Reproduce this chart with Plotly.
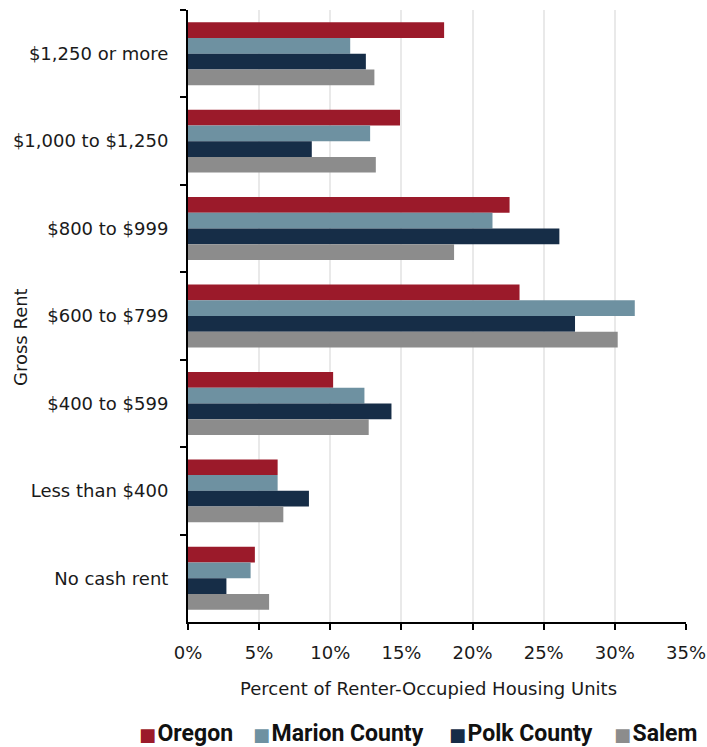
import plotly.graph_objects as go

# Gross rent brackets, listed top to bottom
categories = [
    "$1,250 or more",
    "$1,000 to $1,250",
    "$800 to $999",
    "$600 to $799",
    "$400 to $599",
    "Less than $400",
    "No cash rent",
]

# Percent of renter-occupied housing units in each bracket
oregon = [18.0, 14.9, 22.6, 23.3, 10.2, 6.3, 4.7]
marion = [11.4, 12.8, 21.4, 31.4, 12.4, 6.3, 4.4]
polk = [12.5, 8.7, 26.1, 27.2, 14.3, 8.5, 2.7]
salem = [13.1, 13.2, 18.7, 30.2, 12.7, 6.7, 5.7]

series = [
    ("Oregon", oregon, "#9b1a2a"),
    ("Marion County", marion, "#6e91a1"),
    ("Polk County", polk, "#162d47"),
    ("Salem", salem, "#8c8c8c"),
]

x_ticks = [0, 5, 10, 15, 20, 25, 30, 35]

label_font = "DejaVu Sans, Open Sans, sans-serif"
legend_font = "Roboto, Liberation Sans, sans-serif"

# Plot-area geometry in pixels, used to place the key row and titles
PLOT_LEFT, PLOT_WIDTH = 188, 498
PLOT_BOTTOM, PLOT_HEIGHT = 622, 612


def px_x(px):
    return (px - PLOT_LEFT) / PLOT_WIDTH


def px_y(py):
    return (PLOT_BOTTOM - py) / PLOT_HEIGHT


fig = go.Figure()
for name, values, color in series:
    fig.add_trace(go.Bar(
        y=categories,
        x=values,
        name=name,
        orientation="h",
        marker=dict(color=color, line=dict(width=0)),
        showlegend=False,
    ))

# Key row below the axis title: a coloured square then the bold series name
key_left_px = [137, 251, 447, 612]
key_annotations = []
for (name, _, color), left in zip(series, key_left_px):
    key_annotations.append(dict(
        text=(f"<span style='color:{color};font-family:DejaVu Sans;font-size:18px'>■</span>"
              f"<span style='font-size:6px'> </span><b>{name}</b>"),
        xref="paper", yref="paper",
        x=px_x(left), y=px_y(733),
        xanchor="left", yanchor="middle",
        showarrow=False,
        font=dict(family=legend_font, size=23, color="#111111"),
    ))

fig.update_layout(
    width=707,
    height=747,
    margin=dict(l=188, r=21, t=10, b=125, autoexpand=False),
    plot_bgcolor="white",
    paper_bgcolor="white",
    barmode="group",
    bargap=0.28,
    bargroupgap=0,
    font=dict(family=label_font, size=17, color="#1a1a1a"),
    xaxis=dict(
        range=[0, 35],
        tickvals=x_ticks,
        ticktext=[f"{v}%" for v in x_ticks],
        showgrid=True,
        gridcolor="#e9e9e9",
        gridwidth=2,
        showline=True,
        linecolor="black",
        linewidth=2,
        ticks="outside",
        ticklen=6,
        tickwidth=2,
        tickcolor="black",
        zeroline=False,
        ticklabelstandoff=7,
        tickfont=dict(size=18),
    ),
    yaxis=dict(
        autorange="reversed",
        showgrid=False,
        showline=True,
        linecolor="black",
        linewidth=2,
        ticks="outside",
        tickson="boundaries",
        ticklen=6,
        tickwidth=2,
        tickcolor="black",
        ticklabelstandoff=14,
        tickfont=dict(size=18),
    ),
    annotations=[
        dict(
            text="Gross Rent",
            xref="paper", yref="paper",
            x=px_x(20), y=px_y(337),
            xanchor="center", yanchor="middle",
            textangle=-90,
            showarrow=False,
            font=dict(size=18),
        ),
        dict(
            text="Percent of Renter-Occupied Housing Units",
            xref="paper", yref="paper",
            x=px_x(428), y=px_y(688),
            xanchor="center", yanchor="middle",
            showarrow=False,
            font=dict(size=18),
        ),
    ] + key_annotations,
)

fig.write_html("out.html")
